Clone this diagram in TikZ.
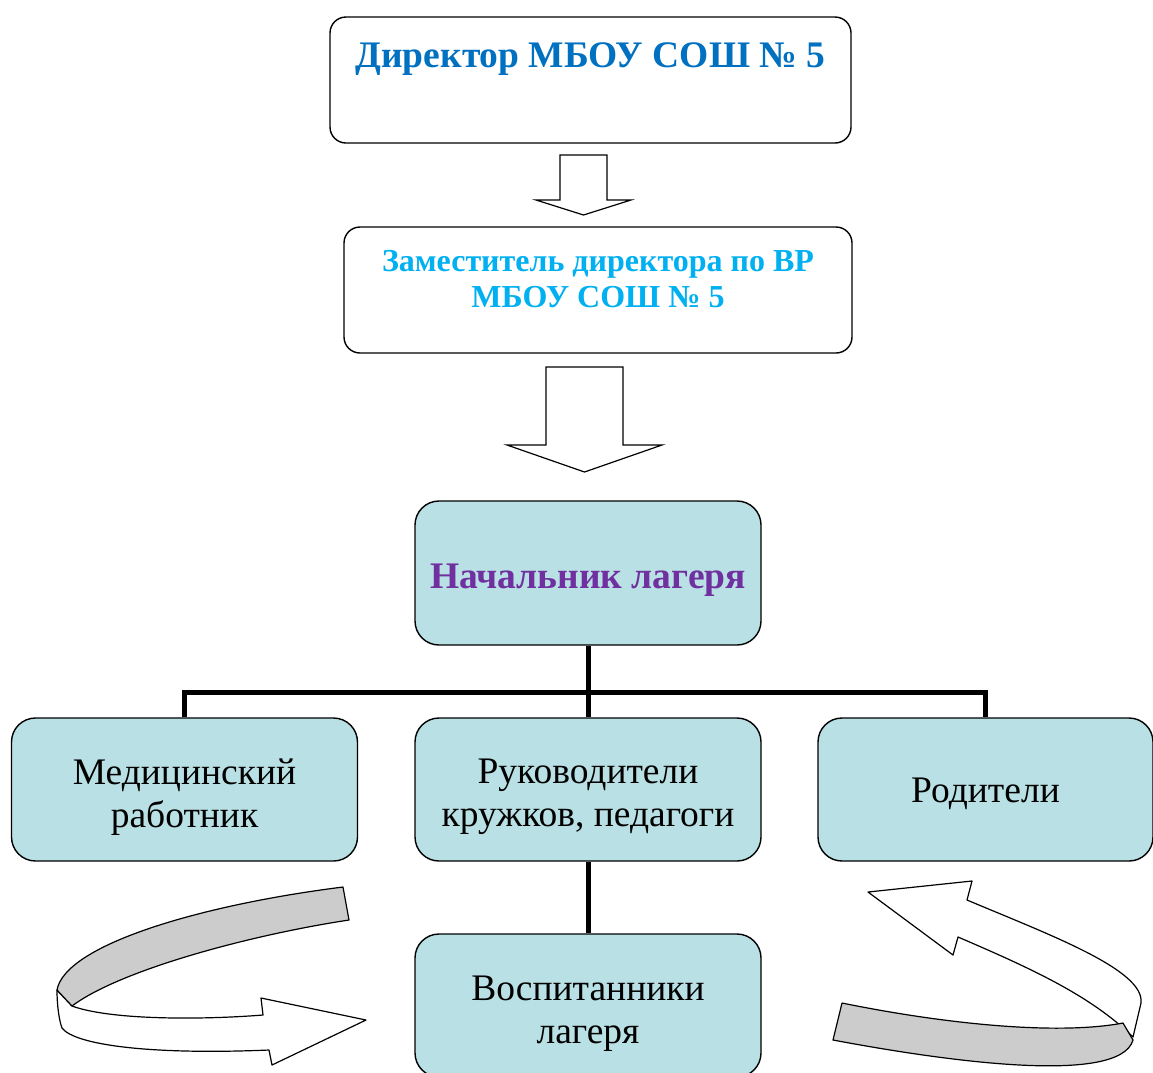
\documentclass[tikz,border=0pt]{standalone}
\usepackage{fontspec}
\setmainfont{Liberation Serif}
\definecolor{dirblue}{RGB}{0,112,192}
\definecolor{zamblue}{RGB}{0,176,240}
\definecolor{chiefpurple}{RGB}{112,48,160}
\definecolor{boxfill}{RGB}{185,224,228}
\definecolor{ribbon}{RGB}{204,204,204}

\begin{document}
\begin{tikzpicture}[x=1pt,y=-1pt,
    box/.style={draw, line width=1.4pt, rounded corners=16pt, inner sep=0pt, align=center},
    whitebox/.style={box, fill=white, minimum height=126pt},
    bluebox/.style={box, fill=boxfill, rounded corners=24pt, minimum width=346pt, minimum height=143pt, font=\fontsize{37.5}{43}\selectfont},
    link/.style={line width=5pt},
    blockarrow/.style={draw, line width=1.2pt, fill=white},
    band/.style={draw, line width=1.2pt, line join=round}]
		%%%%% START %%%%%
		\useasboundingbox (0,0) rectangle (1153,1072);
		\clip (0,0) rectangle (1153,1072);
		
		\node[whitebox, minimum width=521pt, text height=27pt, text depth=52pt, text=dirblue, font=\bfseries\fontsize{37.5}{44}\selectfont] (dir) at (590.5,80) {Директор МБОУ СОШ № 5};
		\node[whitebox, minimum width=508pt, text=zamblue, font=\bfseries\fontsize{32}{36}\selectfont] (zam) at (598,290) {Заместитель директора по ВР\\МБОУ СОШ № 5\\[-14pt]\mbox{}};
		
		\draw[blockarrow] (560,155) -- (607,155) -- (607,200) -- (631,200) -- (583.5,215) -- (536,200) -- (560,200) -- cycle;
		\draw[blockarrow] (546,367) -- (623,367) -- (623,445) -- (662,445) -- (584.5,472) -- (507,445) -- (546,445) -- cycle;
		
		\node[bluebox, minimum height=144pt, text=chiefpurple, font=\bfseries\fontsize{37.5}{43}\selectfont, text height=30pt, text depth=0pt] (chief) at (588,573) {Начальник лагеря};
		
		\node[bluebox] (medic) at (184.5,789.5) {\rule{0pt}{40pt}Медицинский\\работник};
		\node[bluebox] (leaders) at (588,789.5) {\rule{0pt}{40pt}Руководители\\кружков, педагоги};
		\node[bluebox, minimum width=335pt] (parents) at (985.5,789.5) {\rule{0pt}{34pt}Родители};
		\node[bluebox] (pupils) at (588,1005.5) {\rule{0pt}{40pt}Воспитанники\\лагеря};
		
		\draw[link] (chief.south) -- ++(0,47) coordinate (fork);
		\draw[link] (medic.north) |- (fork) -| (parents.north);
		\draw[link] (fork) -- (leaders.north);
		\draw[link] (leaders) -- (pupils);
		
		% left turn arrow
		\draw[band, fill=white] (57,990) .. controls (57,1005) and (59,1020) .. (62,1028) .. controls (75,1045) and (150,1055) .. (269,1050) -- (272,1065) -- (366,1020) -- (261,998) -- (263,1015) .. controls (200,1020) and (110,1020) .. (72,1006) -- cycle;
		\draw[band, fill=ribbon] (57,990) .. controls (65,945) and (200,905) .. (343,887) -- (349,920) .. controls (250,935) and (120,970) .. (72,1006) -- cycle;
		
		% right turn arrow
		\draw[band, fill=white] (868,892) -- (972,881) -- (967,900) .. controls (1050,935) and (1145,970) .. (1141,1003) -- (1133,1037) .. controls (1090,995) and (1030,968) .. (958,937) -- (953,955) -- cycle;
		\draw[band, fill=ribbon] (842,1003) -- (833,1040) .. controls (950,1062) and (1120,1085) .. (1133,1040) -- (1123,1023) .. controls (1060,1035) and (950,1025) .. (842,1003);
		
		%%%%% END %%%%%
\end{tikzpicture}
\end{document}
